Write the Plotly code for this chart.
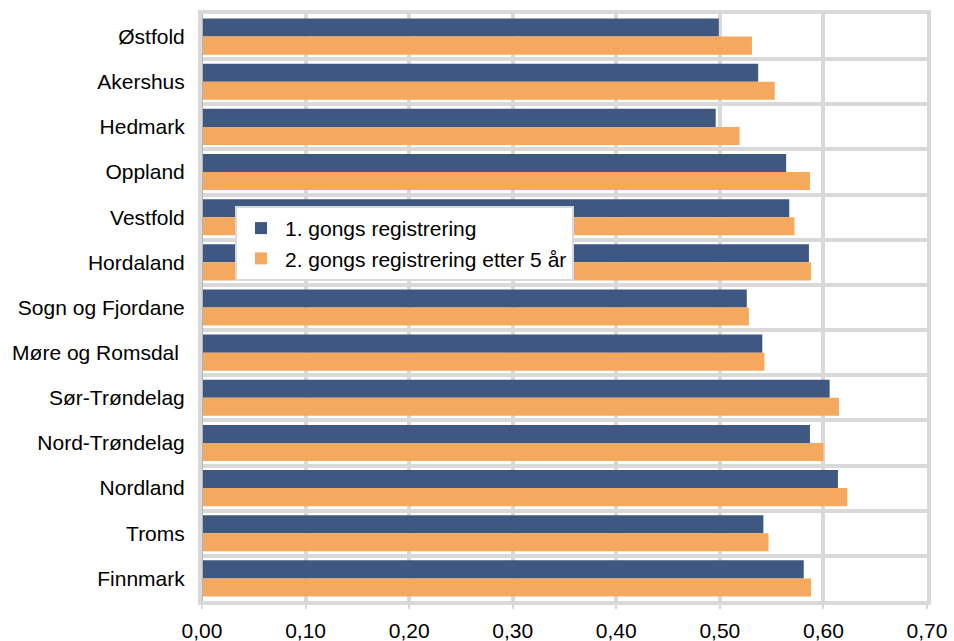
import plotly.graph_objects as go

categories = ["Østfold", "Akershus", "Hedmark", "Oppland", "Vestfold", "Hordaland",
              "Sogn og Fjordane", "Møre og Romsdal\u00a0", "Sør-Trøndelag", "Nord-Trøndelag",
              "Nordland", "Troms", "Finnmark"]
first_reg = [0.499, 0.537, 0.496, 0.564, 0.567, 0.586, 0.526, 0.541, 0.606, 0.587, 0.614, 0.542, 0.581]
second_reg = [0.531, 0.553, 0.519, 0.587, 0.572, 0.588, 0.528, 0.543, 0.615, 0.600, 0.623, 0.547, 0.588]
series_names = ["1. gongs registrering", "2. gongs registrering etter 5 år"]
x_ticks = [0.0, 0.1, 0.2, 0.3, 0.4, 0.5, 0.6, 0.7]

GRID = "#d9d9d9"
FONT = "Liberation Sans, Arial, sans-serif"

fig = go.Figure()
fig.add_trace(go.Bar(y=categories, x=first_reg, orientation="h", name=series_names[0],
                     marker=dict(color="#3f5882", line=dict(width=0))))
fig.add_trace(go.Bar(y=categories, x=second_reg, orientation="h", name=series_names[1],
                     marker=dict(color="#f5a95e", line=dict(width=0))))

fig.update_layout(
    width=954, height=641,
    margin=dict(l=202, r=27, t=14, b=40, autoexpand=False),
    paper_bgcolor="white", plot_bgcolor="white",
    barmode="group", bargap=0.2, bargroupgap=0,
    separators=", ",
    font=dict(family=FONT, size=21, color="black"),
    legend=dict(x=0.0455, y=0.673, xanchor="left", yanchor="top",
                bgcolor="white", bordercolor=GRID, borderwidth=2,
                font=dict(size=21), traceorder="normal", tracegroupgap=0,
                itemwidth=38),
    showlegend=True,
)
fig.update_xaxes(range=[0, 0.7], tickvals=x_ticks, tickformat=".2f",
                 showgrid=True, gridcolor=GRID, gridwidth=4,
                 showline=True, mirror=True, linecolor=GRID, linewidth=4,
                 ticks="outside", ticklen=4, tickcolor=GRID, tickwidth=2,
                 zeroline=False, tickfont=dict(size=21), ticklabelstandoff=4,
                 automargin=False)
fig.update_yaxes(type="category", autorange="reversed", tickson="boundaries",
                 showgrid=True, gridcolor=GRID, gridwidth=4,
                 showline=True, mirror=True, linecolor=GRID, linewidth=4,
                 ticks="", zeroline=False, tickfont=dict(size=21),
                 ticklabelstandoff=9, automargin=False)
fig.add_shape(type="line", xref="x", yref="paper", x0=0, x1=0, y0=0, y1=1,
              line=dict(color="#b3b3b3", width=2), layer="above")

fig.write_html("out.html", config={"displayModeBar": False},
               post_script="document.body.style.margin='0';document.body.style.overflow='hidden';")
